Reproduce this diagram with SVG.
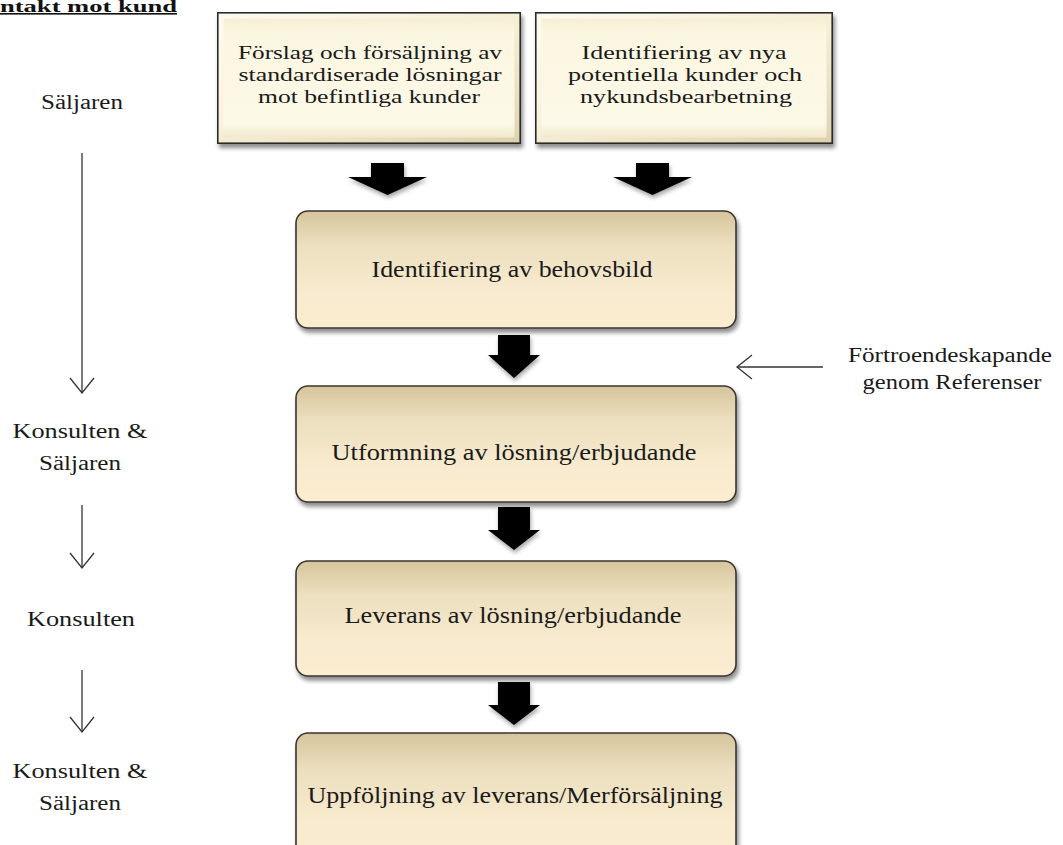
<svg xmlns="http://www.w3.org/2000/svg" width="1063" height="845" viewBox="0 0 1063 845">
<style>
  .t { font-family: "Liberation Serif", "Times New Roman", serif; fill: #1a1a1a; text-anchor: middle; }
  .box { font-size: 19px; }
  .mid { font-size: 23px; }
  .side { font-size: 20px; }
  .top { fill: url(#topFill); stroke: #2a2a2a; stroke-width: 2; filter: url(#shadow); }
  .bevel { fill: none; stroke: url(#bevelStroke); stroke-width: 5; opacity: 0.8; }
  .rbox { fill: url(#midFill); stroke: #3a3530; stroke-width: 1.6; filter: url(#shadow); }
  .blk { fill: #000; filter: url(#ashadow); }
  .thin { stroke: #333; stroke-width: 1.3; fill: none; marker-end: url(#open); }
</style>
<defs>
  <filter id="shadow" x="-10%" y="-10%" width="125%" height="135%">
    <feDropShadow dx="2" dy="4" stdDeviation="2.2" flood-color="#000" flood-opacity="0.45"/>
  </filter>
  <filter id="ashadow" x="-20%" y="-20%" width="140%" height="150%">
    <feDropShadow dx="1" dy="3" stdDeviation="2" flood-color="#000" flood-opacity="0.35"/>
  </filter>
  <linearGradient id="topFill" x1="0" y1="0" x2="0" y2="1">
    <stop offset="0" stop-color="#f4ecd0"/>
    <stop offset="0.15" stop-color="#fbf6e0"/>
    <stop offset="0.85" stop-color="#fdf9e8"/>
    <stop offset="1" stop-color="#ece2c2"/>
  </linearGradient>
  <linearGradient id="bevelStroke" x1="0" y1="0" x2="1" y2="1">
    <stop offset="0" stop-color="#fffdf4"/>
    <stop offset="0.5" stop-color="#f6efd6"/>
    <stop offset="1" stop-color="#d9cda6"/>
  </linearGradient>
  <linearGradient id="midFill" x1="0" y1="0" x2="0" y2="1">
    <stop offset="0" stop-color="#d6c59c"/>
    <stop offset="0.3" stop-color="#ede0c0"/>
    <stop offset="0.7" stop-color="#f8ebcf"/>
    <stop offset="1" stop-color="#fcecd0"/>
  </linearGradient>
  <marker id="open" markerUnits="userSpaceOnUse" viewBox="-18 -15 20 30" markerWidth="20" markerHeight="30" refX="0" refY="0" orient="auto" overflow="visible">
    <path d="M-15,-12 L0,0 L-15,12" fill="none" stroke="#333" stroke-width="1.3"/>
  </marker>
</defs>
<rect width="1063" height="845" fill="#ffffff"/>

<g id="title">
  <text x="0" y="12" font-family="Liberation Serif, serif" font-weight="bold" font-size="16" fill="#111" text-decoration="underline" textLength="177" lengthAdjust="spacingAndGlyphs">ntakt mot kund</text>
</g>

<g id="node-forslag">
  <rect class="top" x="218" y="13" width="302" height="130"/>
  <rect class="bevel" x="221" y="16" width="296" height="124"/>
  <text class="t box" x="370" y="59" textLength="264" lengthAdjust="spacingAndGlyphs">Förslag och försäljning av</text>
  <text class="t box" x="370" y="81" textLength="263" lengthAdjust="spacingAndGlyphs">standardiserade lösningar</text>
  <text class="t box" x="369" y="103" textLength="222" lengthAdjust="spacingAndGlyphs">mot befintliga kunder</text>
</g>

<g id="node-identifiering-nya">
  <rect class="top" x="536" y="13" width="296" height="130"/>
  <rect class="bevel" x="539" y="16" width="290" height="124"/>
  <text class="t box" x="684" y="59" textLength="205" lengthAdjust="spacingAndGlyphs">Identifiering av nya</text>
  <text class="t box" x="685" y="81" textLength="234" lengthAdjust="spacingAndGlyphs">potentiella kunder och</text>
  <text class="t box" x="686" y="103" textLength="212" lengthAdjust="spacingAndGlyphs">nykundsbearbetning</text>
</g>

<g id="node-behovsbild">
  <rect class="rbox" x="296" y="211" width="440" height="117" rx="12" ry="12"/>
  <text class="t mid" x="512" y="277" textLength="281" lengthAdjust="spacingAndGlyphs">Identifiering av behovsbild</text>
</g>

<g id="node-utformning">
  <rect class="rbox" x="296" y="386" width="440" height="116" rx="12" ry="12"/>
  <text class="t mid" x="514" y="460" textLength="365" lengthAdjust="spacingAndGlyphs">Utformning av lösning/erbjudande</text>
</g>

<g id="node-leverans">
  <rect class="rbox" x="296" y="561" width="440" height="115" rx="12" ry="12"/>
  <text class="t mid" x="513" y="623" textLength="337" lengthAdjust="spacingAndGlyphs">Leverans av lösning/erbjudande</text>
</g>

<g id="node-uppfoljning">
  <rect class="rbox" x="296" y="733" width="440" height="130" rx="12" ry="12"/>
  <text class="t mid" x="515" y="803" textLength="415" lengthAdjust="spacingAndGlyphs">Uppföljning av leverans/Merförsäljning</text>
</g>

<g id="label-saljaren-1"><text class="t side" x="82" y="109" textLength="82" lengthAdjust="spacingAndGlyphs">Säljaren</text></g>
<g id="label-konsulten-saljaren-1">
  <text class="t side" x="80" y="438" textLength="135" lengthAdjust="spacingAndGlyphs">Konsulten &amp;</text>
  <text class="t side" x="80" y="470" textLength="82" lengthAdjust="spacingAndGlyphs">Säljaren</text>
</g>
<g id="label-konsulten"><text class="t side" x="81" y="626" textLength="108" lengthAdjust="spacingAndGlyphs">Konsulten</text></g>
<g id="label-konsulten-saljaren-2">
  <text class="t side" x="80" y="778" textLength="135" lengthAdjust="spacingAndGlyphs">Konsulten &amp;</text>
  <text class="t side" x="80" y="810" textLength="82" lengthAdjust="spacingAndGlyphs">Säljaren</text>
</g>
<g id="label-fortroende">
  <text class="t side" x="950" y="362" textLength="204" lengthAdjust="spacingAndGlyphs">Förtroendeskapande</text>
  <text class="t side" x="952" y="389" textLength="179" lengthAdjust="spacingAndGlyphs">genom Referenser</text>
</g>

<g id="connectors">
  <path class="blk" d="M371,163 H404 V177 H427 L387.5,195 L348,177 H371 Z"/>
  <path class="blk" d="M636,163 H669 V177 H692 L652.5,195 L613,177 H636 Z"/>
  <path class="blk" d="M498,335 H530 V355 H540 L514,378 L488,355 H498 Z"/>
  <path class="blk" d="M498,507 H530 V530 H540 L514,550 L488,530 H498 Z"/>
  <path class="blk" d="M498,682 H530 V705 H540 L514,725 L488,705 H498 Z"/>
  <line class="thin" x1="82" y1="153" x2="82" y2="393"/>
  <line class="thin" x1="82" y1="505" x2="82" y2="568"/>
  <line class="thin" x1="82" y1="670" x2="82" y2="732"/>
  <line class="thin" x1="823" y1="367" x2="737" y2="367"/>
</g>
</svg>
